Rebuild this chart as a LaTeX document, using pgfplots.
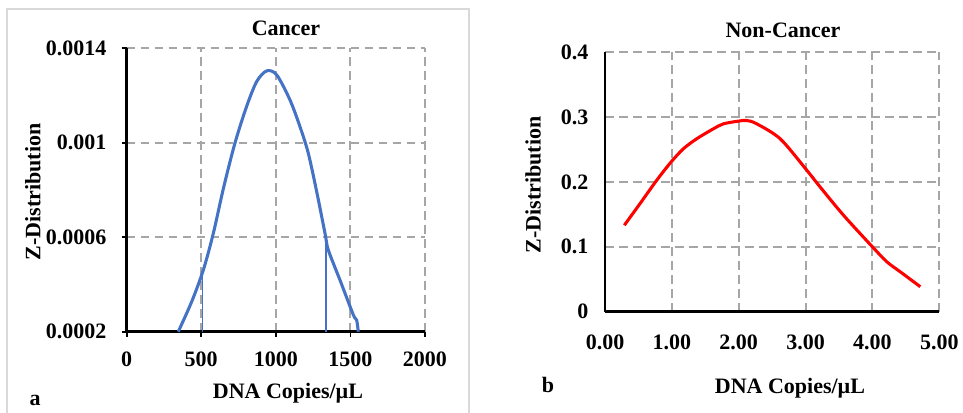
\documentclass[border=0pt]{standalone}
\usepackage{fontspec}
\setmainfont{Liberation Serif}
\usepackage{pgfplots}
\pgfplotsset{compat=1.18}
\definecolor{cblue}{HTML}{4472C4}
\definecolor{gridgray}{HTML}{A6A6A6}
\definecolor{framegray}{HTML}{D9D9D9}
\newcommand{\lbl}{\bfseries\fontsize{16.5}{18}\selectfont}

\pgfplotsset{
  zpanel/.style={
    scale only axis,
    axis lines*=left,
    axis line style={-, line width=1.8pt, black},
    grid=major,
    grid style={gridgray, line width=1.4pt, dash pattern=on 6.5pt off 4pt},
    every tick label/.append style={font=\lbl},
    xticklabel style={font=\lbl},
    yticklabel style={font=\lbl},
    /pgf/number format/assume math mode=true,
    scaled y ticks=false,
    scaled x ticks=false,
    clip=false,
  }
}

\begin{document}
\begin{tikzpicture}
\useasboundingbox (0,0) rectangle (722.25pt,309.75pt);
% frame round panel a
\draw[framegray, line width=1.1pt] (5.25pt,0pt) -- (5.25pt,303pt) -- (351.75pt,303pt) -- (351.75pt,0pt);

\begin{axis}[
  zpanel,
  at={(95pt,61pt)}, anchor=south west,
  width=223.7pt, height=212.6pt,
  xmin=0, xmax=2000, ymin=0.0002, ymax=0.0014,
  xtick={0,500,1000,1500,2000},
  xticklabels={0,500,1000,1500,2000},
  ytick={0.0002,0.0006,0.001,0.0014},
  yticklabels={0.0002,0.0006,0.001,0.0014},
  tick align=outside, major tick length=3.75pt,
  tick style={black, line width=1.3pt},
  xticklabel style={yshift=-8pt},
  yticklabel style={xshift=-8pt},
]
\addplot[cblue, line width=2.3pt, smooth, tension=0.5] coordinates {
  (346,0.0002) (436,0.000327) (514,0.000461) (581,0.000616) (650,0.00081)
  (726,0.000998) (804,0.001153) (872,0.001259) (939,0.001304) (1006,0.001287)
  (1095,0.001181) (1162,0.001068) (1218,0.000955) (1275,0.00079) (1330,0.000616)
  (1352,0.000546) (1430,0.000419) (1520,0.000271) (1542,0.000249) (1553,0.0002)
};
\addplot[cblue, line width=1.1pt] coordinates {(509,0.0002) (509,0.000465)};
\addplot[cblue, line width=1.1pt] coordinates {(1336,0.0002) (1336,0.0006)};
\end{axis}

\begin{axis}[
  zpanel,
  at={(453.75pt,76pt)}, anchor=south west,
  width=250.7pt, height=194.5pt,
  xmin=0, xmax=5, ymin=0, ymax=0.4,
  xtick={0,1,2,3,4,5},
  xticklabels={0.00,1.00,2.00,3.00,4.00,5.00},
  ytick={0,0.1,0.2,0.3,0.4},
  yticklabels={0,0.1,0.2,0.3,0.4},
  major tick length=0pt,
  xticklabel style={yshift=-14pt},
  yticklabel style={xshift=-9pt},
]
\addplot[red, line width=2.3pt, smooth, tension=0.5] coordinates {
  (0.289,0.1333) (0.524,0.1667) (0.773,0.2026) (0.988,0.2308) (1.173,0.2513)
  (1.372,0.2667) (1.622,0.2821) (1.771,0.2897) (1.991,0.2938) (2.121,0.2949)
  (2.27,0.2897) (2.62,0.2667) (3.0,0.2205) (3.218,0.1923) (3.568,0.1487)
  (4.0,0.1) (4.216,0.0769) (4.416,0.0615) (4.716,0.0385)
};
\end{axis}

\node[font=\lbl] at (214.5pt,288.75pt) {Cancer};
\node[font=\lbl] at (587.25pt,287.25pt) {Non-Cancer};
\node[font=\lbl, rotate=90] at (24.75pt,165.75pt) {Z-Distribution};
\node[font=\lbl, rotate=90] at (399.75pt,171pt) {Z-Distribution};
\node[font=\lbl] at (216pt,15pt) {DNA Copies/µL};
\node[font=\lbl] at (592.5pt,18.75pt) {DNA Copies/µL};
\node[font=\lbl] at (26.25pt,9.75pt) {a};
\node[font=\lbl] at (411pt,21pt) {b};
\end{tikzpicture}
\end{document}
